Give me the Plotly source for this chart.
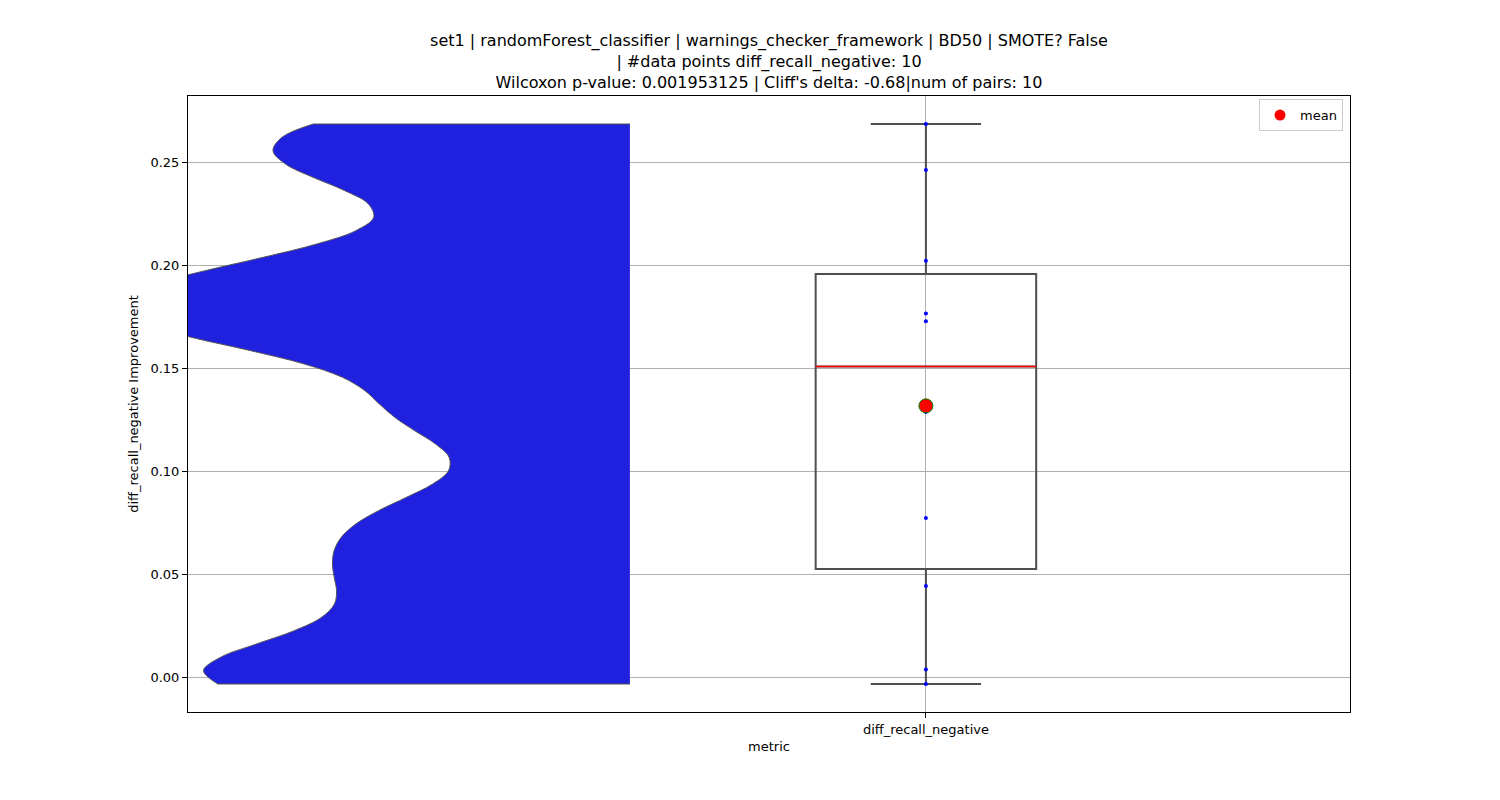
import numpy as np
import plotly.graph_objects as go

# ---- data ----
metric_name = "diff_recall_negative"
values = [-0.0031, 0.0040, 0.0445, 0.0775, 0.1290, 0.1730, 0.1768, 0.2024, 0.2465, 0.2688]
title_lines = [
    "set1 | randomForest_classifier | warnings_checker_framework | BD50 | SMOTE? False",
    "| #data points diff_recall_negative: 10",
    "Wilcoxon p-value: 0.001953125 | Cliff's delta: -0.68|num of pairs: 10",
]
y_ticks = [0.00, 0.05, 0.10, 0.15, 0.20, 0.25]

vals = np.array(values)
q1, med, q3 = np.percentile(vals, [25, 50, 75])
mean_v = vals.mean()
lo, hi = vals.min(), vals.max()
span = hi - lo

# ---- positions / styles ----
BOX_X = 0.0
VIOLIN_X = -0.349
BOX_W = 0.26
FONT = "DejaVu Sans"

fig = go.Figure()

fig.add_trace(go.Violin(
    x0=VIOLIN_X, y=vals, side="negative", width=1.21, bandwidth=0.0197,
    spanmode="hard", points=False, fillcolor="#2020df",
    line=dict(color="#555555", width=1), opacity=1,
    box_visible=False, meanline_visible=False, showlegend=False,
    hoverinfo="skip", scalemode="width",
))

fig.add_trace(go.Box(
    x=[BOX_X], q1=[q1], median=[med], q3=[q3], lowerfence=[lo], upperfence=[hi],
    width=BOX_W, whiskerwidth=0.5, fillcolor="rgba(0,0,0,0)",
    line=dict(color="#4f4f4f", width=2), showlegend=False, boxpoints=False,
))

fig.add_trace(go.Scatter(
    x=[BOX_X - BOX_W / 2, BOX_X + BOX_W / 2], y=[med, med], mode="lines",
    line=dict(color="red", width=1.5), showlegend=False, hoverinfo="skip",
))

fig.add_trace(go.Scatter(
    x=[BOX_X] * len(vals), y=vals, mode="markers",
    marker=dict(color="blue", size=4), showlegend=False,
))

fig.add_trace(go.Scatter(
    x=[BOX_X], y=[mean_v], mode="markers",
    marker=dict(color="red", size=14, line=dict(color="green", width=1)),
    showlegend=False,
))

fig.add_trace(go.Scatter(
    x=[None], y=[None], mode="markers", name="mean",
    marker=dict(color="red", size=11),
))

axis_common = dict(
    showline=True, mirror=True, linecolor="black", linewidth=1,
    ticks="outside", ticklen=5, tickcolor="black", tickwidth=1,
    showgrid=True, gridcolor="#b0b0b0", gridwidth=1, zeroline=False,
    tickfont=dict(family=FONT, size=13, color="black"),
    layer="above traces",
)

fig.update_layout(
    width=1500, height=800,
    margin=dict(l=188, r=150, t=96, b=88),
    paper_bgcolor="white", plot_bgcolor="white",
    font=dict(family=FONT, color="black"),
    title=dict(
        text="<br>".join(title_lines), x=0.5, xref="paper", xanchor="center",
        y=1 - 46 / 800, yref="container", yanchor="top",
        font=dict(family=FONT, size=16, color="black"),
    ),
    xaxis=dict(
        range=[-0.87, 0.5], tickvals=[BOX_X], ticktext=[metric_name],
        title=dict(text="metric", standoff=6, font=dict(family=FONT, size=13)),
        **axis_common,
    ),
    yaxis=dict(
        range=[lo - 0.05 * span, hi + 0.05 * span], tickvals=y_ticks,
        tickformat=".2f",
        title=dict(text="diff_recall_negative Improvement", standoff=8,
                   font=dict(family=FONT, size=13)),
        **axis_common,
    ),
    legend=dict(
        x=0.994, y=0.995, xanchor="right", yanchor="top",
        bordercolor="#cccccc", borderwidth=1, bgcolor="rgba(255,255,255,0.8)",
        font=dict(family=FONT, size=13),
    ),
)

fig.write_html("out.html")
